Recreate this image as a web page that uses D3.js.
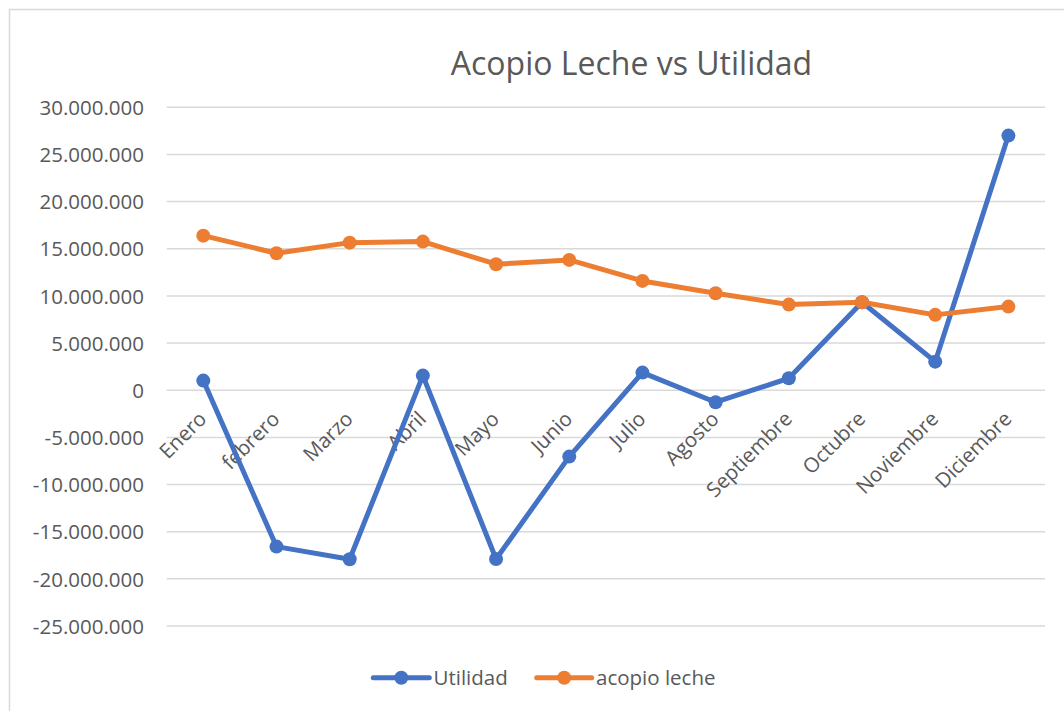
<!DOCTYPE html>
<html>
<head>
<meta charset="utf-8">
<script src="https://cdn.jsdelivr.net/npm/d3@7"></script>
<style>
  html, body { margin: 0; padding: 0; background: #fff; }
  svg { display: block; font-family: "Open Sans", "Noto Sans", sans-serif; }
</style>
</head>
<body>
<svg id="chart" width="1064" height="711"></svg>
<script>
const categories = ["Enero", "febrero", "Marzo", "Abril", "Mayo", "Junio", "Julio", "Agosto", "Septiembre", "Octubre", "Noviembre", "Diciembre"];
const utilidad = [1020000, -16580000, -17920000, 1550000, -17900000, -7040000, 1870000, -1270000, 1270000, 9330000, 3030000, 27000000];
const acopioLeche = [16390000, 14530000, 15650000, 15760000, 13360000, 13820000, 11590000, 10290000, 9080000, 9330000, 7990000, 8870000];
const yTicks = [30000000, 25000000, 20000000, 15000000, 10000000, 5000000, 0, -5000000, -10000000, -15000000, -20000000, -25000000];
const seriesNames = ["Utilidad", "acopio leche"];
const title = "Acopio Leche vs Utilidad";

const colors = ["#4472C4", "#ED7D31"];
const textColor = "#595959";
const gridColor = "#D9D9D9";

const svg = d3.select("#chart");
const W = 1064, H = 711;
const plot = { left: 166.7, right: 1045, top: 107.3, bottom: 626 };

// border of chart area
svg.append("rect")
  .attr("x", 9.5).attr("y", 9.5)
  .attr("width", W + 10).attr("height", H + 10)
  .attr("fill", "#fff").attr("stroke", gridColor).attr("stroke-width", 1.5);

const x = d3.scalePoint().domain(categories).range([plot.left, plot.right]).padding(0.5);
const y = d3.scaleLinear().domain([-25000000, 30000000]).range([plot.bottom, plot.top]);

const locale = d3.formatLocale({ decimal: ",", thousands: ".", grouping: [3], currency: ["", ""], minus: "-" });
const fmt = locale.format(",.0f");

// gridlines + y labels via axis
const yAxis = d3.axisLeft(y).tickValues(yTicks).tickFormat(fmt).tickSize(0).tickPadding(0);
const gy = svg.append("g").attr("transform", `translate(${plot.left},0)`).call(yAxis);
gy.select(".domain").remove();
gy.selectAll("text")
  .attr("x", 144 - plot.left)
  .attr("dy", "0.35em")
  .attr("fill", textColor)
  .style("font-size", "20.5px")
  .style("font-family", "'Open Sans', sans-serif");

svg.append("g").selectAll("line").data(yTicks).join("line")
  .attr("x1", plot.left).attr("x2", plot.right)
  .attr("y1", d => y(d)).attr("y2", d => y(d))
  .attr("stroke", gridColor).attr("stroke-width", 1.5);

// category labels (rotated)
const xAxis = d3.axisBottom(x).tickSize(0).tickPadding(0);
const gx = svg.append("g").attr("transform", `translate(0,${y(0)})`).call(xAxis);
gx.select(".domain").remove();
gx.selectAll(".tick text")
  .attr("y", 0).attr("dy", 0)
  .attr("text-anchor", "end")
  .attr("transform", "translate(4,30) rotate(-45)")
  .attr("fill", textColor)
  .style("font-size", "20.5px")
  .style("font-family", "'Open Sans', sans-serif");

// lines
const seriesData = [utilidad, acopioLeche];
const line = d3.line().x((d, i) => x(categories[i])).y(d => y(d));
seriesData.forEach((vals, si) => {
  const g = svg.append("g");
  g.append("path").datum(vals)
    .attr("d", line)
    .attr("fill", "none")
    .attr("stroke", colors[si])
    .attr("stroke-width", 5)
    .attr("stroke-linejoin", "round")
    .attr("stroke-linecap", "round");
  g.selectAll("circle").data(vals).join("circle")
    .attr("cx", (d, i) => x(categories[i]))
    .attr("cy", d => y(d))
    .attr("r", 7)
    .attr("fill", colors[si]);
});

// title
svg.append("text")
  .attr("x", 631.5).attr("y", 75)
  .attr("text-anchor", "middle")
  .attr("fill", textColor)
  .style("font-size", "32px")
  .style("font-family", "'Open Sans', sans-serif")
  .text(title);

// legend
const legendItems = [
  { x1: 373.3, x2: 429.3, tx: 433.5 },
  { x1: 536.7, x2: 591.7, tx: 596 }
];
const ly = 677.7;
legendItems.forEach((it, i) => {
  const g = svg.append("g");
  g.append("line")
    .attr("x1", it.x1).attr("x2", it.x2).attr("y1", ly).attr("y2", ly)
    .attr("stroke", colors[i]).attr("stroke-width", 5).attr("stroke-linecap", "round");
  g.append("circle").attr("cx", (it.x1 + it.x2) / 2).attr("cy", ly).attr("r", 7).attr("fill", colors[i]);
  g.append("text")
    .attr("x", it.tx).attr("y", ly).attr("dy", "0.35em")
    .attr("fill", textColor)
    .style("font-size", "20.5px")
    .style("font-family", "'Open Sans', sans-serif")
    .text(seriesNames[i]);
});
</script>
</body>
</html>
